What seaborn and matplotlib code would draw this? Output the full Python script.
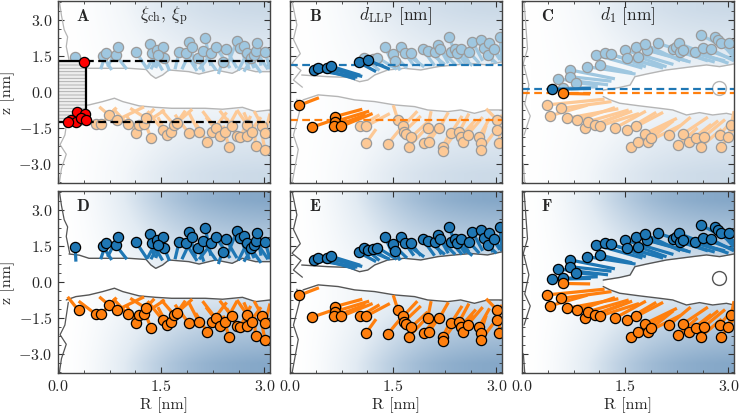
import numpy as np
import pandas as pd
import matplotlib
matplotlib.use("Agg")
import matplotlib.pyplot as plt
import seaborn as sns
from matplotlib.collections import LineCollection
from matplotlib.colors import LinearSegmentedColormap
from matplotlib.ticker import MultipleLocator, FuncFormatter
from matplotlib.patches import Rectangle

# ---------------- data ----------------
# snapshot 1 (panels A / D)
s1_top_R = [0.25,0.65,0.70,0.84,0.87,1.13,1.33,1.37,1.44,1.52,1.54,1.46,1.76,1.86,1.90,1.95,2.04,2.10,2.14,2.23,2.29,2.39,2.44,2.60,2.65,2.70,2.75,2.80,2.85,2.87,2.89,3.01]
s1_top_z = [1.47,1.50,1.64,1.54,1.89,1.68,2.00,1.64,1.75,1.89,1.44,1.54,1.68,1.61,2.10,1.86,1.44,1.72,2.24,1.61,1.89,1.26,1.78,2.14,1.82,1.92,1.64,1.40,1.54,1.72,2.06,1.68]
s1_top_tR = [0.26,0.78,0.62,1.00,0.72,1.30,1.40,1.52,1.30,1.42,1.62,1.35,1.70,2.02,2.00,1.80,2.12,2.30,2.22,2.05,2.50,2.33,2.60,2.45,2.78,2.85,2.62,2.95,2.70,3.05,2.95,3.08]
s1_top_tz = [0.85,0.92,0.95,0.95,1.05,0.95,1.05,0.90,1.00,1.00,0.88,0.95,0.95,0.88,1.05,0.95,0.85,0.90,1.10,0.95,1.00,0.75,1.00,1.05,0.95,1.00,0.90,0.80,0.85,0.95,1.10,0.95]
s1_bot_R = [0.30,0.55,0.63,0.74,0.86,1.01,1.14,1.18,1.25,1.28,1.35,1.52,1.59,1.64,1.69,1.73,1.90,2.05,2.17,2.24,2.29,2.36,2.43,2.48,2.53,2.60,2.65,2.75,2.75,2.82,2.87,2.97,3.01,3.01]
s1_bot_z = [-1.19,-1.35,-1.33,-0.96,-1.17,-1.33,-1.72,-1.38,-1.33,-1.10,-1.90,-1.58,-1.79,-1.65,-1.38,-1.28,-1.72,-1.69,-2.10,-1.65,-1.51,-1.83,-1.69,-2.28,-1.44,-1.83,-1.86,-1.38,-1.83,-1.65,-2.24,-1.44,-1.72,-2.44]
s1_bot_tR = [0.14,0.30,0.85,0.60,1.25,0.80,1.00,1.40,1.55,1.05,1.25,1.30,1.45,1.85,1.50,1.95,1.70,1.90,2.00,2.45,2.10,2.15,2.60,2.40,2.35,2.45,2.80,2.60,2.95,2.70,2.85,2.85,3.08,2.95]
s1_bot_tz = [-0.62,-0.80,-0.65,-0.62,-0.62,-0.70,-1.00,-0.70,-0.75,-0.68,-1.20,-0.80,-1.05,-0.78,-0.75,-0.72,-0.95,-0.85,-1.30,-0.85,-0.80,-1.05,-0.80,-1.40,-0.78,-1.10,-1.00,-0.75,-1.05,-0.85,-1.40,-0.80,-0.90,-1.60]
s1_surf_top_R = [0.16,0.31,0.45,0.74,1.03,1.28,1.35,1.42,1.52,1.61,1.90,2.05,2.29,2.53,2.68,2.87,3.08]
s1_surf_top_z = [1.17,1.12,0.99,0.99,0.99,0.94,0.71,0.57,0.71,0.92,0.85,0.75,0.92,0.78,0.99,0.85,0.85]
s1_surf_bot_R = [0.12,0.26,0.45,0.65,0.82,0.94,1.18,1.42,1.65,1.90,2.14,2.39,2.68,2.87,3.08]
s1_surf_bot_z = [-0.75,-0.61,-0.54,-0.40,-0.26,-0.40,-0.58,-0.64,-0.68,-0.68,-0.68,-0.72,-0.64,-0.82,-0.75]
s1_edge_R = [0.02,0.05,0.09,0.14,0.12,0.17]
s1_edge_z = [3.8,3.2,2.6,2.3,1.9,1.2]
s1_edge2_R = [0.15,0.10,0.03,0.12,0.05,0.02]
s1_edge2_z = [-0.85,-1.8,-2.2,-2.6,-3.2,-3.8]

# snapshot 2 (panels B / E)
s2_top_R = [0.35,0.41,0.54,0.59,1.00,1.07,1.13,1.20,1.27,1.38,1.49,1.53,1.61,1.67,1.76,1.93,2.00,2.10,2.15,2.18,2.31,2.34,2.39,2.43,2.48,2.60,2.65,2.77,2.82,2.87,2.89,2.97,3.05]
s2_top_z = [0.92,0.99,0.99,1.08,1.24,1.44,1.33,1.36,1.44,1.89,1.58,1.31,1.86,1.61,1.61,1.78,1.72,1.68,1.96,1.78,2.28,1.68,1.78,1.61,1.78,1.68,2.10,2.17,1.82,1.54,2.03,1.78,2.28]
s2_top_tR = [0.98,0.95,1.05,1.02,1.25,1.30,1.45,1.40,1.55,1.50,1.70,1.60,1.80,1.95,1.90,2.10,2.25,2.20,2.30,2.40,2.45,2.50,2.55,2.65,2.60,2.75,2.80,2.90,2.95,3.00,3.05,3.08,3.08]
s2_top_tz = [0.62,0.55,0.65,0.70,0.85,0.90,0.95,1.00,0.95,1.10,1.00,0.90,1.10,1.05,1.10,1.10,1.15,1.15,1.20,1.15,1.30,1.15,1.20,1.10,1.25,1.20,1.30,1.35,1.25,1.20,1.35,1.30,1.40]
s2_bot_R = [0.13,0.32,0.65,0.65,0.64,0.74,1.01,1.11,1.11,1.42,1.57,1.64,1.66,1.69,1.73,1.76,2.00,1.95,2.02,2.17,2.22,2.22,2.34,2.46,2.48,2.51,2.58,2.75,2.77,2.77,3.01,3.01,3.04]
s2_bot_z = [-0.56,-1.47,-1.03,-1.24,-1.44,-1.44,-1.44,-1.42,-2.11,-2.17,-1.19,-1.44,-1.65,-1.75,-2.28,-1.89,-1.51,-2.11,-2.07,-1.51,-2.28,-2.46,-1.72,-1.65,-1.86,-2.07,-1.79,-1.86,-2.11,-2.44,-1.17,-1.58,-2.11]
s2_bot_tR = [0.42,0.75,1.05,1.15,1.10,1.20,1.30,1.45,1.25,1.60,1.50,1.85,1.90,1.55,1.95,2.00,2.05,2.15,2.20,2.30,2.35,2.40,2.50,2.60,2.70,2.65,2.80,2.90,2.85,2.95,2.85,3.08,3.05]
s2_bot_tz = [-0.24,-1.05,-0.72,-0.80,-0.95,-0.90,-0.95,-0.90,-1.55,-1.55,-0.55,-0.80,-1.00,-1.10,-1.60,-1.25,-0.80,-1.40,-1.35,-0.85,-1.55,-1.70,-1.00,-0.90,-1.15,-1.35,-1.05,-1.10,-1.40,-1.75,-0.70,-0.95,-1.40]
s2_surf_top_R = [0.17,0.55,0.84,1.01,1.13,1.23,1.42,1.66,1.90,2.15,2.39,2.63,2.87,3.08]
s2_surf_top_z = [0.71,0.64,0.61,0.43,0.50,0.71,0.92,0.99,0.92,1.06,1.13,1.19,1.13,1.26]
s2_surf_bot_R = [0.19,0.41,0.70,0.94,1.23,1.52,1.81,2.00,2.29,2.48,2.68,2.87,3.08]
s2_surf_bot_z = [-0.33,-0.12,-0.19,-0.33,-0.40,-0.54,-0.61,-0.75,-0.82,-0.75,-0.89,-0.75,-0.75]
s2_edge_R = [0.03,0.10,0.05,0.15,0.03,0.16,0.05,0.18]
s2_edge_z = [3.8,2.8,2.2,1.6,1.2,0.9,0.5,0.2]
s2_edge2_R = [0.10,0.14,0.05,0.12,0.03]
s2_edge2_z = [-0.3,-0.8,-1.8,-2.4,-3.8]

# snapshot 3 (panels C / F)
s3_top_R = [0.43,0.53,0.60,0.70,0.70,0.79,0.94,1.08,1.13,1.20,1.30,1.49,1.52,1.66,1.69,1.81,1.78,1.98,2.19,2.24,2.28,2.29,2.34,2.51,2.60,2.63,2.75,2.80,2.85,2.89,3.01]
s3_top_z = [0.11,0.54,0.15,0.92,0.64,0.39,1.06,1.54,1.13,1.61,1.58,1.75,1.44,1.89,1.47,1.75,2.00,2.03,1.78,1.89,2.03,1.68,1.75,1.68,2.38,1.82,1.78,2.31,2.17,2.06,2.06]
s3_top_tR = [1.00,1.25,1.10,1.35,1.30,1.10,1.65,1.75,1.60,1.95,1.80,2.20,2.05,2.40,2.10,2.45,2.30,2.60,2.70,2.85,2.75,2.80,2.95,3.00,3.05,3.08,3.08,3.08,3.08,3.08,3.08]
s3_top_tz = [0.15,0.30,0.22,0.55,0.45,0.30,0.75,1.00,0.80,1.10,1.05,1.15,1.00,1.30,1.05,1.25,1.30,1.45,1.30,1.35,1.50,1.25,1.30,1.20,1.70,1.35,1.30,1.70,1.55,1.45,1.50]
s3_bot_R = [0.59,0.36,0.40,0.57,0.65,0.80,0.91,0.96,1.06,1.13,1.35,1.52,1.59,1.66,1.69,1.78,1.83,1.88,2.14,2.27,2.34,2.43,2.53,2.60,2.65,2.87,2.89,2.99,3.04]
s3_bot_z = [-0.06,-0.54,-1.00,-0.68,-1.10,-1.19,-1.51,-1.24,-1.38,-1.42,-1.51,-1.58,-2.28,-1.44,-2.07,-1.75,-2.07,-1.93,-1.79,-2.21,-1.75,-2.07,-1.93,-2.28,-1.86,-1.79,-2.28,-1.86,-1.38]
s3_bot_tR = [0.99,1.20,0.95,1.30,1.40,1.35,1.45,1.55,1.60,1.70,1.80,1.95,2.00,2.05,2.10,2.25,2.30,2.20,2.45,2.55,2.70,2.75,2.85,2.90,2.95,3.08,3.08,3.08,3.08]
s3_bot_tz = [-0.08,-0.30,-0.55,-0.40,-0.70,-0.65,-0.95,-0.75,-0.80,-0.90,-0.80,-0.85,-1.50,-0.85,-1.35,-1.10,-1.40,-1.20,-1.05,-1.50,-1.05,-1.35,-1.20,-1.55,-1.15,-1.10,-1.55,-1.20,-0.80]
s3_surf_top_R = [1.18,1.42,1.57,1.64,1.81,2.10,2.29,2.48,2.68,2.87,3.08]
s3_surf_top_z = [0.08,0.19,0.29,0.64,0.75,0.92,0.99,1.06,1.13,1.06,1.17]
s3_surf_bot_R = [1.18,1.28,1.42,1.71,2.00,2.19,2.39,2.58,2.77,2.97,3.08]
s3_surf_bot_z = [-0.19,-0.33,-0.47,-0.58,-0.68,-0.75,-0.96,-0.86,-0.96,-0.89,-0.96]
s3_edge_R = [0.03,0.08,0.02,0.10,0.04,0.12,0.03]
s3_edge_z = [3.8,1.8,1.2,0.3,-0.5,-1.0,-1.8]
s3_edge2_R = [0.02,0.04]
s3_edge2_z = [-3.0,-3.8]
s3_void_R = [2.86]
s3_void_z = [0.15]

# panel A extras
red_R = [0.38,0.28,0.39,0.19,0.26,0.33,0.40,0.14]
red_z = [1.24,-0.84,-0.92,-1.17,-1.25,-1.10,-1.17,-1.24]
box_R = 0.40
box_top, box_bot = 1.30, -1.26

# highlighted lipids (top row) and dashed reference heights
sel_top = [[], [0, 1, 2, 3, 4, 6], [0]]
sel_bot = [[], [0, 1, 2, 3, 4, 5], [0]]
d_llp = (1.12, -1.15)
d_one = (0.12, -0.05)

letters = ["A", "B", "C", "D", "E", "F"]
titles = [r"$\xi_{\rm ch}$, $\xi_{\rm p}$", r"$d_{\rm LLP}$ [nm]", r"$d_1$ [nm]"]
xticks = [0.0, 1.5, 3.0]
yticks = [-3.0, -1.5, 0.0, 1.5, 3.0]

# ---------------- style ----------------
sns.set_theme(style="ticks")
plt.rcParams.update({
    "font.family": "serif",
    "font.serif": ["cmr10"],
    "mathtext.fontset": "cm",
    "axes.unicode_minus": False,
    "axes.formatter.use_mathtext": True,
    "hatch.linewidth": 0.6,
})

BLUE, ORANGE = "#1f77b4", "#ff7f0e"
LBLUE, LORANGE = "#9fc7e0", "#fdc996"
XMAX, YLIM = 3.08, 3.8

snaps = []
for (tR, tz, ttR, ttz, bR, bz, btR, btz, stR, stz, sbR, sbz, eR, ez, e2R, e2z) in [
    (s1_top_R, s1_top_z, s1_top_tR, s1_top_tz, s1_bot_R, s1_bot_z, s1_bot_tR, s1_bot_tz,
     s1_surf_top_R, s1_surf_top_z, s1_surf_bot_R, s1_surf_bot_z, s1_edge_R, s1_edge_z, s1_edge2_R, s1_edge2_z),
    (s2_top_R, s2_top_z, s2_top_tR, s2_top_tz, s2_bot_R, s2_bot_z, s2_bot_tR, s2_bot_tz,
     s2_surf_top_R, s2_surf_top_z, s2_surf_bot_R, s2_surf_bot_z, s2_edge_R, s2_edge_z, s2_edge2_R, s2_edge2_z),
    (s3_top_R, s3_top_z, s3_top_tR, s3_top_tz, s3_bot_R, s3_bot_z, s3_bot_tR, s3_bot_tz,
     s3_surf_top_R, s3_surf_top_z, s3_surf_bot_R, s3_surf_bot_z, s3_edge_R, s3_edge_z, s3_edge2_R, s3_edge2_z)]:
    snaps.append(dict(
        top=pd.DataFrame(dict(R=tR, z=tz, tR=ttR, tz=ttz)),
        bot=pd.DataFrame(dict(R=bR, z=bz, tR=btR, tz=btz)),
        surf_top=(stR, stz), surf_bot=(sbR, sbz), edges=[(eR, ez), (e2R, e2z)]))

# smooth water-density background
gR = np.linspace(0, XMAX, 240)
gz = np.linspace(-YLIM, YLIM, 300)
GR, GZ = np.meshgrid(gR, gz)
field = (1 - np.exp(-(GR / 1.5) ** 2)) * (0.45 + 0.55 * np.clip((np.abs(GZ) - 0.8) / 2.6, 0, 1))
cmap = LinearSegmentedColormap.from_list("water", ["#ffffff", "#e2ebf3", "#b3c9de", "#83a6c7"])

fig = plt.figure(figsize=(7.39, 4.15), dpi=100)
W, H = 739.0, 415.0
lefts = [58, 290, 522]
tops = [1, 191]
aw, ah = 212, 182

fmt = FuncFormatter(lambda v, p: f"${v:.1f}$")

for row in range(2):
    for col in range(3):
        ax = fig.add_axes([lefts[col] / W, 1 - (tops[row] + ah) / H, aw / W, ah / H])
        s = snaps[col]
        faded = row == 0
        ax.imshow(field, extent=(0, XMAX, -YLIM, YLIM), origin="lower", cmap=cmap,
                  vmin=0, vmax=1, alpha=0.42 if faded else 1.0, aspect="auto",
                  interpolation="bilinear", zorder=0)
        # hydrophobic core (no water)
        stR, stz = s["surf_top"]
        sbR, sbz = s["surf_bot"]
        r0 = max(stR[0], sbR[0])
        rr = np.linspace(r0, XMAX, 200)
        ax.fill_between(rr, np.interp(rr, sbR, sbz), np.interp(rr, stR, stz),
                        color="white", lw=0, zorder=1)
        ocol = "#b5b5b5" if faded else "#555555"
        ax.plot(stR, stz, color=ocol, lw=1.0, zorder=2)
        ax.plot(sbR, sbz, color=ocol, lw=1.0, zorder=2)
        for eR, ez in s["edges"]:
            ax.plot(eR, ez, color=ocol, lw=0.9, zorder=2)
        if col == 2:
            ax.scatter(s3_void_R, s3_void_z, s=100, facecolor="white", edgecolor=ocol,
                       linewidth=1.0, zorder=2)

        for leaf, full, light, sel in (("top", BLUE, LBLUE, sel_top[col]),
                                       ("bot", ORANGE, LORANGE, sel_bot[col])):
            df = s[leaf]
            mask = np.zeros(len(df), bool)
            if faded:
                mask[sel] = True
            base = df[~mask] if faded else df
            segs = [[(a, b), (c, d)] for a, b, c, d in base[["R", "z", "tR", "tz"]].values]
            ax.add_collection(LineCollection(segs, colors=light if faded else full,
                                             linewidths=2.3, zorder=3, capstyle="butt"))
            sns.scatterplot(data=base, x="R", y="z", ax=ax, s=54,
                            color=light if faded else full,
                            edgecolor="#9a9a9a" if faded else "black",
                            linewidth=0.9, zorder=4, legend=False)
            if faded and mask.any():
                hi = df[mask]
                segs = [[(a, b), (c, d)] for a, b, c, d in hi[["R", "z", "tR", "tz"]].values]
                ax.add_collection(LineCollection(segs, colors=full, linewidths=2.3,
                                                 zorder=5, capstyle="butt"))
                sns.scatterplot(data=hi, x="R", y="z", ax=ax, s=54, color=full,
                                edgecolor="black", linewidth=0.9, zorder=6, legend=False)

        if row == 0 and col == 0:
            ax.add_patch(Rectangle((0, box_bot), box_R, box_top - box_bot,
                                   facecolor="#ededed", edgecolor="#a8a8a8",
                                   hatch="-----", lw=0, zorder=5))
            ax.plot([0, box_R, box_R, 0], [box_top, box_top, box_bot, box_bot],
                    color="black", lw=1.6, zorder=6)
            for zz in (box_top, box_bot):
                ax.plot([box_R, XMAX], [zz, zz], color="black", lw=1.6,
                        dashes=(3.5, 2.0), zorder=6)
            ax.scatter(red_R, red_z, s=54, color="red", edgecolor="black",
                       linewidth=0.9, zorder=7)
        if row == 0 and col in (1, 2):
            zb, zo = d_llp if col == 1 else d_one
            ax.plot([0, XMAX], [zb, zb], color=BLUE, lw=1.6, dashes=(3.5, 2.0), zorder=5)
            ax.plot([0, XMAX], [zo, zo], color=ORANGE, lw=1.6, dashes=(3.5, 2.0), zorder=5)

        ax.set_xlim(0, XMAX)
        ax.set_ylim(-YLIM, YLIM)
        ax.set_xticks(xticks)
        ax.set_yticks(yticks)
        ax.xaxis.set_minor_locator(MultipleLocator(0.375))
        ax.yaxis.set_minor_locator(MultipleLocator(0.375))
        ax.tick_params(which="both", direction="in", top=True, right=True,
                       color="#333333", labelsize=11.5, pad=4)
        ax.tick_params(which="major", length=4, width=0.8)
        ax.tick_params(which="minor", length=2.2, width=0.6)
        ax.xaxis.set_major_formatter(fmt)
        ax.yaxis.set_major_formatter(fmt)
        for sp in ax.spines.values():
            sp.set_color("#444444")
            sp.set_linewidth(1.0)
            sp.set_zorder(10)
        if col == 0:
            ax.set_ylabel("z [nm]", fontsize=11.5, labelpad=2)
        else:
            ax.set_ylabel("")
            ax.tick_params(labelleft=False)
        if row == 1:
            ax.set_xlabel("R [nm]", fontsize=11.5, labelpad=3)
        else:
            ax.set_xlabel("")
            ax.tick_params(labelbottom=False)

        ax.text(0.118, 0.915, r"$\mathbf{" + letters[row * 3 + col] + "}$",
                transform=ax.transAxes, ha="center", va="center", fontsize=12, zorder=11)
        if row == 0:
            ax.text(0.5, 0.915, titles[col], transform=ax.transAxes, ha="center",
                    va="center", fontsize=12.5, zorder=11)

fig.savefig("out.png", dpi=100)
